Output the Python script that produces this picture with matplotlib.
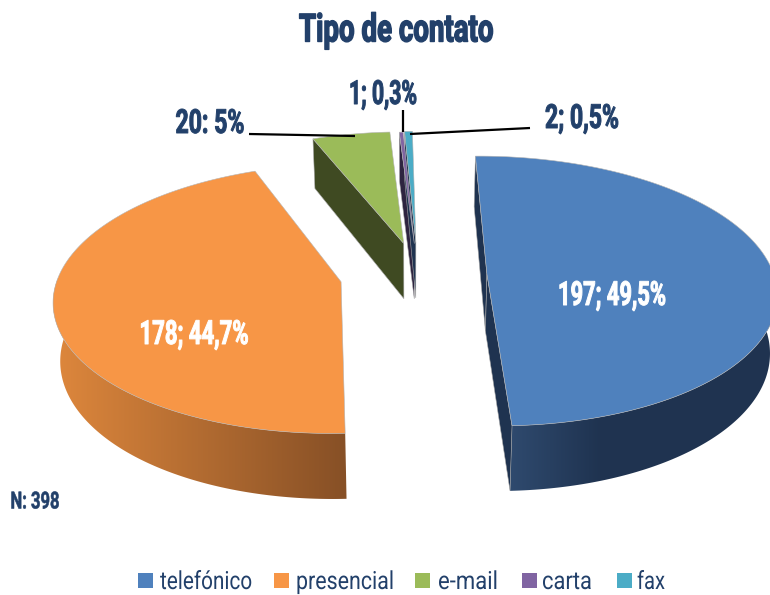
import numpy as np
import matplotlib
matplotlib.use('Agg')
import matplotlib.pyplot as plt
from matplotlib.patches import Polygon, Rectangle
from matplotlib.patheffects import AbstractPathEffect
from matplotlib.transforms import Affine2D

plt.rcParams['font.family'] = ['Roboto', 'DejaVu Sans']

# --- DATOS ---
categorias = ['telefónico', 'presencial', 'e-mail', 'carta', 'fax']
valores = [197, 178, 20, 1, 2]
porcentajes = ['49,5%', '44,7%', '5%', '0,3%', '0,5%']
separadores = ['; ', '; ', ': ', '; ', '; ']

# --- ESTILO ---
colores = ['#4f81bd', '#f79646', '#9bbb59', '#8064a2', '#4bacc6']
paredes = ['#1f3350', '#8a5526', '#3f4a22', '#2e2440', '#1f3350']
azul_texto = '#22406a'
explosion = [76, 70, 72, 70, 72]
ajuste_x = [-1, -2, 7, 6, 6]
radios = [1.0, 0.985, 1.0, 1.0, 1.0]
ANGULO_INICIO = -0.7
CX, CY = 412, 275
R_PX, ESCALA_Y = 287, 133
PERSP = 0.126
ALTO = 57


class Estrechar(AbstractPathEffect):
    # la fuente original es muy condensada, se estrecha el glifo en horizontal
    def __init__(self, fx, x0, trazo=0.0):
        super().__init__()
        self.fx, self.x0, self.trazo = fx, x0, trazo

    def draw_path(self, renderer, gc, tpath, affine, rgbFace=None):
        a = affine + Affine2D().translate(-self.x0, 0).scale(self.fx, 1).translate(self.x0, 0)
        gc0 = renderer.new_gc()
        gc0.copy_properties(gc)
        gc0.set_linewidth(self.trazo)
        gc0.set_foreground(rgbFace)
        renderer.draw_path(gc0, tpath, a, rgbFace)
        gc0.restore()


def proyectar(x, y, z=0.0):
    s = 1 / (1 + PERSP * y)
    return CX + x * s * (1 - 0.02 * z), CY - ESCALA_Y * y * s + z * ALTO * s


def punto(th, r, dx, dy, z=0.0):
    a = np.radians(th)
    return proyectar(dx + r * R_PX * np.sin(a), dy / R_PX + r * np.cos(a), z)


def texto(xc, y, s, ancho, size, color=azul_texto, peso='bold', trazo=0.7):
    t = ax.text(xc, y, s, ha='center', va='center', fontsize=size, fontweight=peso, color=color)
    w = t.get_window_extent(fig.canvas.get_renderer()).width
    t.set_path_effects([Estrechar(ancho / w, xc, trazo)])
    return t


fig = plt.figure(figsize=(7.7, 5.95), dpi=100)
ax = fig.add_axes([0, 0, 1, 1])
ax.axis('off')

total = sum(valores)
bordes = ANGULO_INICIO + np.cumsum([0] + [v / total * 360 for v in valores])
gradientes = {1: ('#dc863c', '#875026', 60, 345), 0: ('#2f4a6e', paredes[0], 510, 600)}

for i in [2, 3, 4, 1, 0]:
    ini, fin = bordes[i], bordes[i + 1]
    medio = np.radians((ini + fin) / 2)
    dx, dy = explosion[i] * np.sin(medio) + ajuste_x[i], explosion[i] * np.cos(medio)
    r = radios[i]
    ths = np.linspace(ini, fin, 200)
    apice = proyectar(dx, dy / R_PX)
    apice_b = proyectar(dx, dy / R_PX, 1)

    # pared del borde exterior
    vis = ths[np.cos(np.radians(ths)) < 0.03]
    if len(vis) > 1:
        pared = [punto(t, r, dx, dy) for t in vis] + [punto(t, r, dx, dy, 1) for t in vis[::-1]]
        if i in gradientes:
            c1, c2, x0, x1 = gradientes[i]
            c1, c2 = np.array(matplotlib.colors.to_rgb(c1)), np.array(matplotlib.colors.to_rgb(c2))
            xs = np.arange(0, 790)
            tt = np.clip((xs - x0) / (x1 - x0), 0, 1)[:, None]
            img = (c1 + (c2 - c1) * tt)[None, :, :]
            im = ax.imshow(img, extent=(0, 790, 595, 0), aspect='auto', zorder=1)
            im.set_clip_path(Polygon(pared, transform=ax.transData))
        else:
            ax.add_patch(Polygon(pared, fc=paredes[i], ec='none', zorder=1))

    # paredes de corte
    if i != 1:
        ax.add_patch(Polygon([punto(ini, r, dx, dy), punto(ini, r, dx, dy, 1), apice_b, apice],
                             fc=paredes[i], ec='#a8a8a8', lw=0.4, zorder=2))
    if i == 0:
        ax.add_patch(Polygon([apice, apice_b, punto(fin, r, dx, dy, 1), punto(fin, r, dx, dy)],
                             fc=paredes[i], ec='#a8a8a8', lw=0.4, zorder=2))

    # cara superior
    sup = [apice] + [punto(t, r, dx, dy) for t in ths]
    ax.add_patch(Polygon(sup, fc=colores[i], ec='#b5b5b5', lw=0.4, zorder=3))

ax.set_xlim(0, 770)
ax.set_ylim(595, 0)

# etiquetas
etiq = [f'{v}{s}{p}' for v, s, p in zip(valores, separadores, porcentajes)]
pos_etiq = [(612, 296), (194, 335), (210, 124), (383, 95), (582, 119)]
anchos = [108, 109, 69, 68, 74]
for i, (txt, (x, y)) in enumerate(zip(etiq, pos_etiq)):
    texto(x, y, txt, anchos[i], 24, 'white' if i < 2 else azul_texto).set_zorder(6)

# líneas guía
guias = [((249, 355), (134, 136)), ((403, 403), (110, 132)), ((410, 530), (134, 128))]
for xs, ys in guias:
    ax.plot(xs, ys, color='black', lw=1.6, solid_capstyle='butt', zorder=5)

texto(396, 31, 'Tipo de contato', 194, 28, trazo=1.0)
texto(35, 502, 'N: 398', 49, 17, trazo=0.4)

# leyenda
x_ley = [138, 274, 415, 522, 617]
x_txt = [206, 345, 468, 567, 651]
anchos_ley = [92, 98, 60, 50, 28]
for nombre, col, x, xt, w in zip(categorias, colores, x_ley, x_txt, anchos_ley):
    ax.add_patch(Rectangle((x, 573), 15, 15, fc=col, ec='none'))
    texto(xt, 582, nombre, w, 18, peso='normal', trazo=0.0)

fig.savefig('out.png', dpi=100)
